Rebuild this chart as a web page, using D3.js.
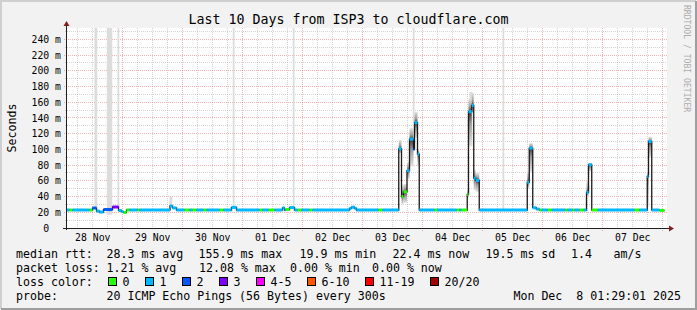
<!DOCTYPE html>
<html>
<head>
<meta charset="utf-8">
<script src="https://cdn.jsdelivr.net/npm/d3@7"></script>
<style>
html, body { margin: 0; padding: 0; background: #fff; }
svg text { font-family: "DejaVu Sans Mono", monospace; white-space: pre; }
</style>
</head>
<body>
<svg id="chart" width="697" height="310"></svg>
<script>
// ---- chart data ----
var title = 'Last 10 Days from ISP3 to cloudflare.com';
var dayLabels = ['28 Nov', '29 Nov', '30 Nov', '01 Dec', '02 Dec', '03 Dec', '04 Dec', '05 Dec', '06 Dec', '07 Dec'];
var yTicks = [0, 20, 40, 60, 80, 100, 120, 140, 160, 180, 200, 220, 240];
var yTickLabels = ['0  ', '20 m', '40 m', '60 m', '80 m', '100 m', '120 m', '140 m', '160 m', '180 m', '200 m', '220 m', '240 m'];

var lossBins = ['0', '1', '2', '3', '4-5', '6-10', '11-19', '20/20'];
var lossColors = ['#26ff00', '#00b8ff', '#0059ff', '#7e00ff', '#ff00ff', '#ff5500', '#ff0000', '#a10000'];

// hours since 28 Nov 00:00, median rtt (ms) and lost pings (of 20), step after
var hours = [1.5, 2.7, 3.9, 10.7, 11.9, 13.5, 14.7, 16.3, 19.9, 22.3, 23.5, 24.3, 25.5, 26.7, 29.9, 30.7,
    42.9, 43.9, 45.5, 48.7, 50.7, 51.9, 53.5, 56.3, 57.5, 62.7, 64.3, 67.5, 69.5, 78.7, 79.9, 82.3,
    84.7, 87.9, 88.7, 89.1, 90.7, 92.7, 93.9, 95.5, 98.7, 99.9, 114.7, 115.5, 116.7, 117.5, 126.3, 127.9,
    134.4, 135.5, 136.3, 137.7, 138.7, 140.3, 140.7, 141.9, 142.6, 148.7, 149.7, 157.5, 158.7, 159.5,
    161.8, 162.3, 163.6, 164.4, 165.2, 166.6, 185.8, 186.6, 188.0, 189.4, 190.7, 191.6, 194.0, 195.6,
    201.0, 201.9, 203.9, 204.7, 206.7, 208.4, 209.5, 210.3, 211.6, 214.0, 228.7, 230.7, 233.8, 234.3,
    235.6, 238.7, 240.7];
var median = [22.9, 22.9, 22.9, 22.9, 25.4, 21.5, 20.3, 23.5, 26.7, 22.3, 20.8, 19.8, 23.0, 22.9, 22.9, 22.9,
    28.0, 25.5, 22.9, 22.9, 22.9, 22.9, 22.9, 22.9, 22.9, 22.9, 22.9, 26.2, 22.9, 22.9, 22.9, 22.9,
    22.9, 25.6, 22.9, 23.5, 26.0, 22.9, 22.9, 22.9, 22.9, 22.9, 25.0, 26.5, 25.0, 22.9, 22.9, 22.9,
    100.7, 40.0, 46.0, 73.0, 113.0, 100.0, 134.0, 94.0, 22.9, 22.9, 22.9, 22.9, 22.9, 22.9,
    42.7, 148.0, 155.9, 63.5, 60.5, 22.9, 58.0, 101.6, 25.8, 24.0, 22.9, 22.9, 22.9, 22.9,
    22.9, 22.9, 22.9, 22.9, 22.9, 22.9, 45.2, 80.4, 22.9, 22.9, 22.9, 22.9, 65.5, 110.0,
    22.9, 22.4, null];
var loss = [1, 0, 1, 0, 2, 1, 1, 2, 3, 1, 1, 0, 0, 1, 0, 1,
    1, 1, 1, 0, 1, 0, 1, 0, 1, 0, 1, 1, 1, 0, 1, 0,
    1, 1, 1, 0, 1, 1, 0, 1, 0, 1, 1, 1, 1, 1, 0, 1,
    1, 0, 0, 1, 1, 2, 1, 1, 1, 0, 1, 0, 1, 0,
    0, 1, 1, 1, 1, 1, 1, 1, 1, 1, 0, 1, 0, 1,
    0, 1, 0, 1, 0, 1, 1, 1, 0, 1, 0, 1, 1, 1,
    1, 0, null];

// smoke (ping spread) around the median on the busy evenings
var smokeAt = [134.4, 135.5, 136.3, 137.7, 138.7, 140.7, 141.9, 161.8, 162.3, 163.6, 164.4, 165.2,
    185.8, 186.6, 209.5, 210.3, 233.8, 234.3];
var smokeLo = [95, 30, 32, 62, 78, 115, 78, 38, 104, 145, 48, 46, 50, 70, 40, 72, 28, 90];
var smokeHi = [112, 55, 56, 84, 127, 148, 100, 50, 165, 172, 74, 70, 72, 108, 60, 83, 72, 116];

// single outlier pings: light grey bars (hi null = off the top)
var barFrom = [12.7, 17.6, 21.9, 42.7, 68.0, 92.0, 140.0, 175.9, 162.7, 233.8];
var barTo = [13.8, 19.8, 22.6, 43.8, 68.7, 92.7, 140.7, 176.6, 163.9, 234.4];
var barLo = [26, 17, 25, 28, 26, 26, 134, 23, 104, 27];
var barHi = [null, null, null, 40, null, null, null, null, 173, 61];

var statLine1 = ['median rtt:', '28.3 ms avg', '155.9 ms max', '19.9 ms min', '22.4 ms now', '19.5 ms sd', '1.4', 'am/s'];
var statLine2 = ['packet loss:', '1.21 % avg', '12.08 % max', '0.00 % min', '0.00 % now'];
var probeText = ['probe:', '20 ICMP Echo Pings (56 Bytes) every 300s'];
var stampText = 'Mon Dec  8 01:29:01 2025';

// ---- drawing ----
var svg = d3.select('#chart');
var plotL = 67, plotR = 667, plotT = 28, plotB = 228;

var x = d3.scaleLinear().domain([1.7, 241.7]).range([plotL, plotR]);
var y = d3.scaleLinear().domain([0, 254.4]).range([plotB, plotT]);
function snap(v) { return Math.floor(v) + 0.5; }
function lossBin(n) {
    if (n <= 3) return n;
    if (n <= 5) return 4;
    if (n <= 10) return 5;
    if (n <= 19) return 6;
    return 7;
}

svg.append('rect').attr('width', 697).attr('height', 310).attr('fill', '#f2f2f2');
svg.append('path').attr('d', 'M1,309V1H696').attr('fill', 'none')
    .attr('stroke', '#cfcfcf').attr('stroke-width', 2);
svg.append('path').attr('d', 'M1,309H696V1').attr('fill', 'none')
    .attr('stroke', '#9e9e9e').attr('stroke-width', 2);

var defs = svg.append('defs');
defs.append('clipPath').attr('id', 'plot')
    .append('rect').attr('x', plotL).attr('y', plotT).attr('width', plotR - plotL).attr('height', plotB - plotT);
[['smokeUp', 1, 0], ['smokeDown', 0, 1]].forEach(function(g) {
    var grad = defs.append('linearGradient').attr('id', g[0])
        .attr('x1', 0).attr('x2', 0).attr('y1', g[1]).attr('y2', g[2]);
    grad.append('stop').attr('offset', 0).attr('stop-color', '#3c3c3c');
    grad.append('stop').attr('offset', 0.35).attr('stop-color', '#9a9a9a');
    grad.append('stop').attr('offset', 1).attr('stop-color', '#e4e4e4');
});

svg.append('rect').attr('x', plotL).attr('y', plotT).attr('width', plotR - plotL).attr('height', plotB - plotT)
    .attr('fill', '#fff');

// grid
var grid = svg.append('g').attr('shape-rendering', 'crispEdges');
var minorY = d3.range(10, 260, 20);
var minorX = d3.range(6, 241, 6).filter(function(h) { return h % 24 !== 0 && x(h) > plotL; });
var majorX = d3.range(24, 241, 24);
var minorCol = 'rgba(143,143,143,0.38)', majorCol = 'rgba(222,79,79,0.42)';

grid.selectAll('.hmin').data(minorY).enter().append('line')
    .attr('x1', plotL - 2).attr('x2', plotR)
    .attr('y1', function(d) { return snap(y(d)); }).attr('y2', function(d) { return snap(y(d)); })
    .attr('stroke', minorCol).attr('stroke-dasharray', '1,1');
grid.selectAll('.vmin').data(minorX).enter().append('line')
    .attr('y1', plotT).attr('y2', plotB + 2)
    .attr('x1', function(d) { return snap(x(d)); }).attr('x2', function(d) { return snap(x(d)); })
    .attr('stroke', minorCol).attr('stroke-dasharray', '1,1');
grid.selectAll('.hmaj').data(yTicks.slice(1)).enter().append('line')
    .attr('x1', plotL - 3).attr('x2', plotR)
    .attr('y1', function(d) { return snap(y(d)); }).attr('y2', function(d) { return snap(y(d)); })
    .attr('stroke', majorCol).attr('stroke-dasharray', '1,1');
grid.selectAll('.vmaj').data(majorX).enter().append('line')
    .attr('y1', plotT).attr('y2', plotB + 3)
    .attr('x1', function(d) { return snap(x(d)); }).attr('x2', function(d) { return snap(x(d)); })
    .attr('stroke', majorCol).attr('stroke-dasharray', '1,1');

// data layers
var plot = svg.append('g').attr('clip-path', 'url(#plot)');

plot.selectAll('.bar').data(barFrom).enter().append('rect')
    .attr('x', function(d) { return x(d); })
    .attr('width', function(d, i) { return x(barTo[i]) - x(d); })
    .attr('y', function(d, i) { return barHi[i] === null ? plotT : y(barHi[i]); })
    .attr('height', function(d, i) { return y(barLo[i]) - (barHi[i] === null ? plotT : y(barHi[i])); })
    .attr('fill', '#dcdcdc');

var smoke = smokeAt.map(function(h, i) {
    var k = hours.indexOf(h);
    return { x0: x(h), x1: x(hours[k + 1]), m: median[k], lo: smokeLo[i], hi: smokeHi[i] };
});
plot.selectAll('.sup').data(smoke).enter().append('rect')
    .attr('x', function(d) { return d.x0; }).attr('width', function(d) { return d.x1 - d.x0; })
    .attr('y', function(d) { return y(d.hi); })
    .attr('height', function(d) { return Math.max(0.5, y(d.m) - y(d.hi)); })
    .attr('fill', 'url(#smokeUp)');
plot.selectAll('.sdn').data(smoke).enter().append('rect')
    .attr('x', function(d) { return d.x0; }).attr('width', function(d) { return d.x1 - d.x0; })
    .attr('y', function(d) { return y(d.m); })
    .attr('height', function(d) { return Math.max(0.5, y(d.lo) - y(d.m)); })
    .attr('fill', 'url(#smokeDown)');

var n = hours.length;
var pts = hours.map(function(h, i) { return [h, i < n - 1 ? median[i] : median[n - 2]]; });
var line = d3.line()
    .x(function(d) { return x(d[0]); })
    .y(function(d) { return y(d[1]); })
    .curve(d3.curveStepAfter);
plot.append('path').datum(pts).attr('d', line)
    .attr('fill', 'none').attr('stroke', '#1a1a1a').attr('stroke-width', 1.3);

plot.selectAll('.band').data(d3.range(n - 1)).enter().append('rect')
    .attr('x', function(i) { return x(hours[i]); })
    .attr('width', function(i) { return x(hours[i + 1]) - x(hours[i]); })
    .attr('y', function(i) { return y(median[i]) - 1.5; })
    .attr('height', 3)
    .attr('fill', function(i) { return lossColors[lossBin(loss[i])]; });

// axes
var axisCol = '#1f1f1f', arrowCol = '#801f1f';
svg.append('line').attr('x1', snap(plotL - 1)).attr('x2', snap(plotL - 1)).attr('y1', plotB + 2).attr('y2', plotT - 3)
    .attr('stroke', axisCol).attr('shape-rendering', 'crispEdges');
svg.append('line').attr('x1', plotL - 4).attr('x2', plotR + 3).attr('y1', snap(plotB)).attr('y2', snap(plotB))
    .attr('stroke', axisCol).attr('shape-rendering', 'crispEdges');
svg.append('path').attr('d', 'M' + (plotL - 3.5) + ',' + (plotT - 2) + 'L' + (plotL - 0.5) + ',' + (plotT - 7) + 'L' + (plotL + 2.5) + ',' + (plotT - 2) + 'Z')
    .attr('fill', arrowCol);
svg.append('path').attr('d', 'M' + (plotR + 2) + ',' + (plotB - 2.5) + 'L' + (plotR + 7) + ',' + (plotB + 0.5) + 'L' + (plotR + 2) + ',' + (plotB + 3.5) + 'Z')
    .attr('fill', arrowCol);

svg.selectAll('.ylab').data(yTicks).enter().append('text')
    .attr('x', 61).attr('y', function(d) { return y(d) + 3.6; })
    .attr('text-anchor', 'end').attr('font-size', '9.8px').attr('fill', '#000')
    .text(function(d, i) { return yTickLabels[i]; });

svg.selectAll('.xlab').data(dayLabels).enter().append('text')
    .attr('x', function(d, i) { return x(12 + 24 * i); }).attr('y', 241)
    .attr('text-anchor', 'middle').attr('font-size', '9.8px').attr('fill', '#000')
    .text(function(d) { return d; });

// titles
svg.append('text').attr('x', 348.5).attr('y', 23.5).attr('text-anchor', 'middle')
    .attr('font-size', '13.3px').attr('fill', '#000').text(title);
svg.append('text').attr('transform', 'translate(15.5,128) rotate(-90)').attr('text-anchor', 'middle')
    .attr('font-size', '11.6px').attr('fill', '#000').text('Seconds');
svg.append('text').attr('transform', 'translate(683.5,5) rotate(90)')
    .attr('font-size', '8.1px').attr('fill', '#adadad').text('RRDTOOL / TOBI OETIKER');

// legend
var lg = svg.append('g').attr('font-size', '11.6px').attr('fill', '#000');
var line1X = [16, 106.5, 198.5, 299.5, 392.5, 485.5, 571, 613.5];
var line2X = [16, 106.5, 199, 290, 372];
statLine1.forEach(function(t, i) { lg.append('text').attr('x', line1X[i]).attr('y', 258).text(t); });
statLine2.forEach(function(t, i) { lg.append('text').attr('x', line2X[i]).attr('y', 272).text(t); });
lg.append('text').attr('x', 16).attr('y', 286).text('loss color:');
var bx = 108.5;
lossBins.forEach(function(b, i) {
    lg.append('rect').attr('x', bx).attr('y', 277.5).attr('width', 8).attr('height', 8)
        .attr('fill', lossColors[i]).attr('stroke', '#000').attr('stroke-width', 1)
        .attr('shape-rendering', 'crispEdges');
    lg.append('text').attr('x', bx + 14).attr('y', 286).text(b);
    bx += 30 + 7 * b.length;
});
lg.append('text').attr('x', 16).attr('y', 300).text(probeText[0]);
lg.append('text').attr('x', 106.5).attr('y', 300).text(probeText[1]);
lg.append('text').attr('x', 681).attr('y', 300).attr('text-anchor', 'end').text(stampText);
</script>
</body>
</html>
